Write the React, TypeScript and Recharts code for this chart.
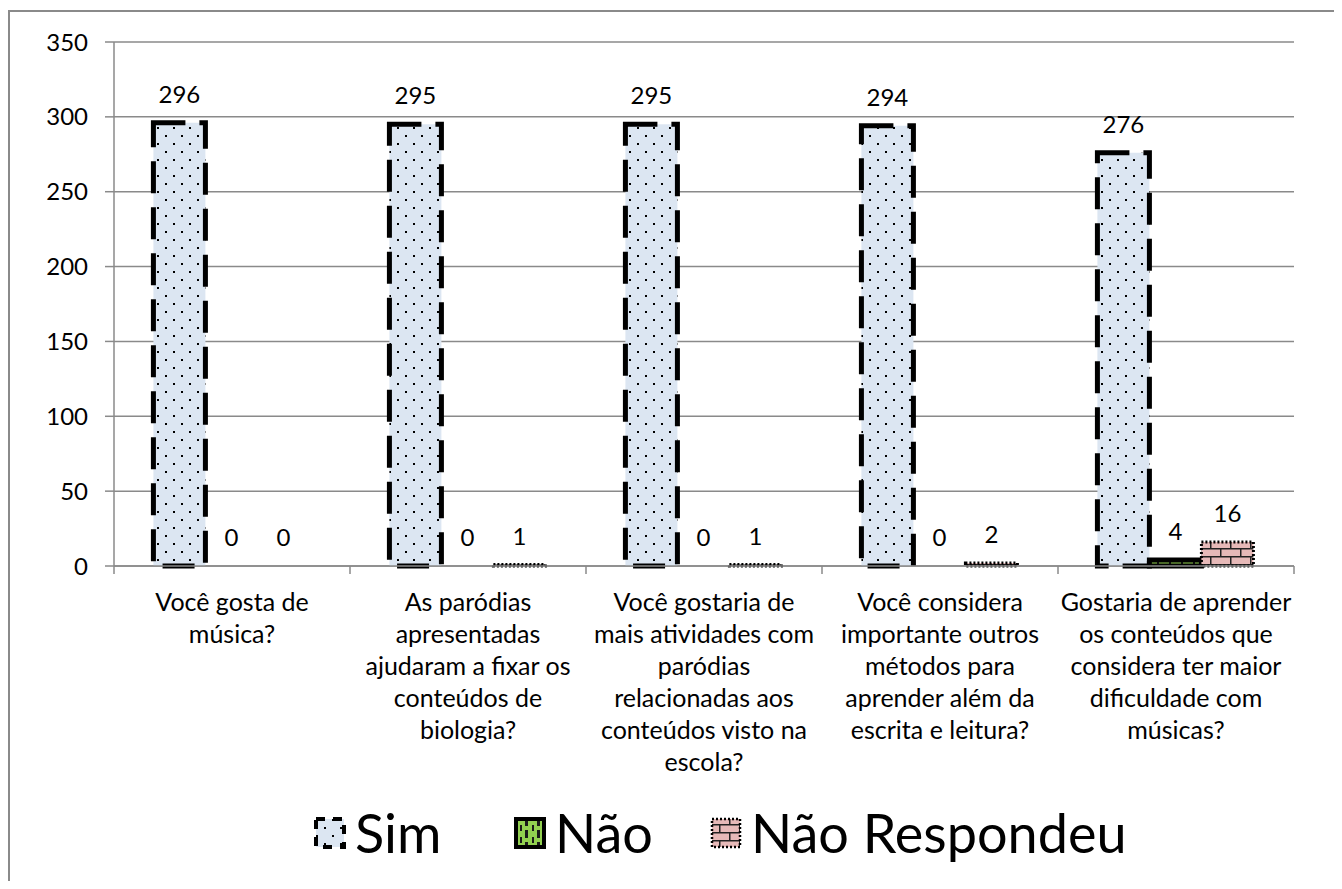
import React from 'react';
import { BarChart, Bar, XAxis, YAxis, CartesianGrid, Legend, LabelList, Rectangle } from 'recharts';

// Survey answers per question
const categories = [
  'Você gosta de música?',
  'As paródias apresentadas ajudaram a fixar os conteúdos de biologia?',
  'Você gostaria de mais atividades com paródias relacionadas aos conteúdos visto na escola?',
  'Você considera importante outros métodos para aprender além da escrita e leitura?',
  'Gostaria de aprender os conteúdos que considera ter maior dificuldade com músicas?',
];

// How each category label is broken into lines under the axis
const categoryLines = [
  ['Você gosta de', 'música?'],
  ['As paródias', 'apresentadas', 'ajudaram a fixar os', 'conteúdos de', 'biologia?'],
  ['Você gostaria de', 'mais atividades com', 'paródias', 'relacionadas aos', 'conteúdos visto na', 'escola?'],
  ['Você considera', 'importante outros', 'métodos para', 'aprender além da', 'escrita e leitura?'],
  ['Gostaria de aprender', 'os conteúdos que', 'considera ter maior', 'dificuldade com', 'músicas?'],
];

const simValues = [296, 295, 295, 294, 276];
const naoValues = [0, 0, 0, 0, 4];
const naoRespondeuValues = [0, 1, 1, 2, 16];

const yTicks = [0, 50, 100, 150, 200, 250, 300, 350];

const chartData = categories.map((name, i) => ({
  name,
  sim: simValues[i],
  nao: naoValues[i],
  naoRespondeu: naoRespondeuValues[i],
}));

const FONT = "Lato, 'Open Sans', sans-serif";
const GRAY = '#8a8a8a';
const CHART_W = 1324;
const CHART_H = 869;
const MARGIN = { top: 30, right: 40, left: 0, bottom: 95 };
const Y_AXIS_W = 104;
const HALF_BAND = (CHART_W - MARGIN.right - Y_AXIS_W) / categories.length / 2;

// Fill + outline style of each series (used by bars and legend icons)
const seriesStyle = {
  sim: { fill: 'url(#patSim)', stroke: '#000', strokeWidth: 5, strokeDasharray: '32 14' },
  nao: { fill: 'url(#patNao)', stroke: '#000', strokeWidth: 5, strokeDasharray: undefined },
  naoRespondeu: { fill: 'url(#patNR)', stroke: '#000', strokeWidth: 3, strokeDasharray: '2 2' },
};

const legendItems = [
  { key: 'sim', label: 'Sim', width: 200 },
  { key: 'nao', label: 'Não', width: 196 },
  { key: 'naoRespondeu', label: 'Não Respondeu', width: 460 },
] as const;

const PatternDefs = () => (
  <defs>
    <pattern id="patSim" patternUnits="userSpaceOnUse" width="16" height="16">
      <rect width="16" height="16" fill="#dce6f2" />
      <rect x="3" y="3" width="2" height="2" fill="#000" />
      <rect x="11" y="11" width="2" height="2" fill="#000" />
    </pattern>
    <pattern id="patNao" patternUnits="userSpaceOnUse" width="12" height="12">
      <rect width="12" height="12" fill="#92d050" />
      <rect x="0" y="2" width="3" height="8" fill="#1a1a1a" />
      <rect x="7" y="0" width="2" height="3" fill="#1a1a1a" />
      <rect x="7" y="9" width="2" height="3" fill="#1a1a1a" />
    </pattern>
    <pattern id="patNR" patternUnits="userSpaceOnUse" width="20" height="16">
      <rect width="20" height="16" fill="#e6b9b8" />
      <rect x="0" y="0" width="20" height="1.5" fill="#222" />
      <rect x="0" y="8" width="20" height="1.5" fill="#222" />
      <rect x="0" y="0" width="1.5" height="8" fill="#222" />
      <rect x="10" y="8" width="1.5" height="8" fill="#222" />
    </pattern>
  </defs>
);

// zero-valued bars get a hairline height so their value label is kept; nothing is drawn for them
const keepZero = (value: any) => (value === 0 ? 0.01 : 0);

const BarShape = (props: any) => {
  if (Math.abs(Number(props.height)) < 0.5) return null;
  return <Rectangle {...props} />;
};

const CategoryTick = (props: any) => {
  const { x, y, index } = props;
  const lines = categoryLines[index] || [];
  const last = index === categories.length - 1;
  return (
    <g>
      <line x1={x - HALF_BAND} y1={y} x2={x - HALF_BAND} y2={y + 8} stroke={GRAY} strokeWidth={1.5} />
      {last && <line x1={x + HALF_BAND} y1={y} x2={x + HALF_BAND} y2={y + 8} stroke={GRAY} strokeWidth={1.5} />}
      <text x={x} y={y + 45} textAnchor="middle" fontFamily={FONT} fontSize={25} fill="#000">
        {lines.map((line, i) => (
          <tspan key={i} x={x} dy={i === 0 ? 0 : 32}>
            {line}
          </tspan>
        ))}
      </text>
    </g>
  );
};

// Value above each bar, zero values included
const ValueLabel = (props: any) => {
  const { x, y, width, value } = props;
  if (value === undefined || value === null) return null;
  return (
    <text x={Number(x) + Number(width) / 2} y={Number(y) - 20} textAnchor="middle" fontFamily={FONT} fontSize={24} fill="#000">
      {value}
    </text>
  );
};

const LegendContent = () => (
  <div style={{ display: 'flex', alignItems: 'center', fontFamily: FONT, fontSize: 54, color: '#000' }}>
    {legendItems.map((item) => {
      const s = seriesStyle[item.key];
      return (
        <div key={item.key} style={{ display: 'flex', alignItems: 'center', width: item.width }}>
          <svg width={34} height={34} style={{ marginRight: 8 }}>
            <rect
              x={3}
              y={3}
              width={28}
              height={28}
              fill={s.fill}
              stroke={s.stroke}
              strokeWidth={item.key === 'naoRespondeu' ? 2.5 : 4}
              strokeDasharray={item.key === 'sim' ? '9 8' : s.strokeDasharray}
            />
          </svg>
          <span style={{ lineHeight: 1 }}>{item.label}</span>
        </div>
      );
    })}
  </div>
);

export default function App() {
  return (
    <div style={{ width: CHART_W, height: CHART_H, marginTop: 2, borderTop: `2px solid ${GRAY}`, borderLeft: `2px solid ${GRAY}`, background: '#fff' }}>
      <BarChart width={CHART_W} height={CHART_H} data={chartData} margin={MARGIN} barCategoryGap="16.7%" barGap={0}>
        <PatternDefs />
        <CartesianGrid vertical={false} stroke={GRAY} strokeWidth={1.5} />
        <XAxis
          dataKey="name"
          height={220}
          interval={0}
          tickLine={false}
          tickSize={0}
          tickMargin={0}
          axisLine={{ stroke: GRAY, strokeWidth: 1.5 }}
          tick={<CategoryTick />}
        />
        <YAxis
          width={Y_AXIS_W}
          domain={[0, 350]}
          ticks={yTicks}
          interval={0}
          tickSize={9}
          tickMargin={17}
          axisLine={{ stroke: GRAY, strokeWidth: 1.5 }}
          tickLine={{ stroke: GRAY, strokeWidth: 1.5 }}
          tick={{ fontFamily: FONT, fontSize: 24, fill: '#000' }}
        />
        <Legend
          verticalAlign="middle"
          align="center"
          layout="horizontal"
          wrapperStyle={{ top: 794, left: 303, width: 900 }}
          content={<LegendContent />}
        />
        {(['sim', 'nao', 'naoRespondeu'] as const).map((key) => (
          <Bar
            key={key}
            dataKey={key}
            {...seriesStyle[key]}
            minPointSize={keepZero}
            shape={<BarShape />}
            isAnimationActive={false}
          >
            <LabelList dataKey={key} content={<ValueLabel />} />
          </Bar>
        ))}
      </BarChart>
    </div>
  );
}
